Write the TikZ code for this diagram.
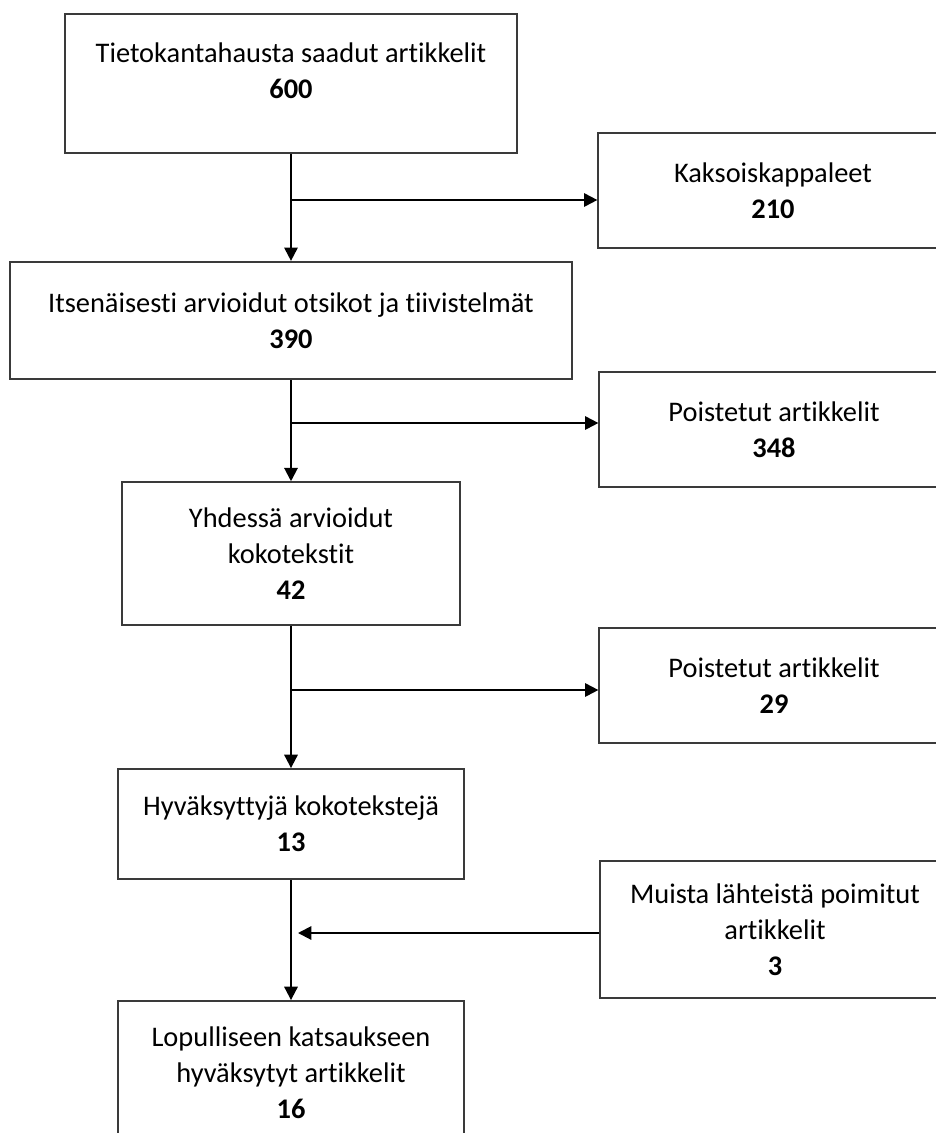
\documentclass[tikz,border=0pt]{standalone}
\usepackage{fontspec}
\setmainfont{Carlito}[Ligatures=NoCommon]
\usetikzlibrary{arrows.meta, positioning}
\definecolor{bEdge}{HTML}{3A3A3A}

\begin{document}
\begin{tikzpicture}[x=0.75pt, y=-0.75pt,
    box/.style={draw=bEdge, line width=1.4pt, fill=white, align=center,
      inner sep=0pt, font=\fontsize{21.3}{27}\selectfont},
    flow/.style={draw=black, line width=1.5pt, -{Triangle[length=10pt, width=10pt]}}]
  \useasboundingbox (0,0) rectangle (936,1133);
  % main column
  \node[box, minimum width=339pt, minimum height=104pt, text depth=19pt] (haku) at (291,83.5)
    {Tietokantahausta saadut artikkelit\\\textbf{600}};
  \node[box, minimum width=421pt, minimum height=88pt] (tiivis) at (291,320.5)
    {Itsenäisesti arvioidut otsikot ja tiivistelmät\\\textbf{390}};
  \node[box, minimum width=254pt, minimum height=107pt] (koko) at (291,553.5)
    {Yhdessä arvioidut\\kokotekstit\\\textbf{42}};
  \node[box, minimum width=260pt, minimum height=82.5pt] (hyvak) at (291,824)
    {Hyväksyttyjä kokotekstejä\\\textbf{13}};
  \node[box, minimum width=260pt, minimum height=108pt] (lopull) at (291,1073)
    {Lopulliseen katsaukseen\\hyväksytyt artikkelit\\\textbf{16}};
  % side boxes
  \node[box, minimum width=262pt, minimum height=86pt] (kaksoiset) at (773,190.5)
    {Kaksoiskappaleet\\\textbf{210}};
  \node[box, minimum width=262pt, minimum height=86pt] (poist1) at (774,429.5)
    {Poistetut artikkelit\\\textbf{348}};
  \node[box, minimum width=262pt, minimum height=86pt] (poist2) at (774,685.5)
    {Poistetut artikkelit\\\textbf{29}};
  \node[box, minimum width=262pt, minimum height=103pt] (muut) at (775,929.5)
    {Muista lähteistä poimitut\\artikkelit\\\textbf{3}};
  % connectors
  \coordinate (j1) at (291,200);
  \coordinate (j2) at (291,423);
  \coordinate (j3) at (291,690);
  \coordinate (j4) at (298,933);
  \draw[flow] (haku) -- (tiivis);
  \draw[flow] (tiivis) -- (koko);
  \draw[flow] (koko) -- (hyvak);
  \draw[flow] (hyvak) -- (lopull);
  \draw[flow] (j1) -- (kaksoiset.west |- j1);
  \draw[flow] (j2) -- (poist1.west |- j2);
  \draw[flow] (j3) -- (poist2.west |- j3);
  \draw[flow] (muut.west |- j4) -- (j4);
\end{tikzpicture}
\end{document}
